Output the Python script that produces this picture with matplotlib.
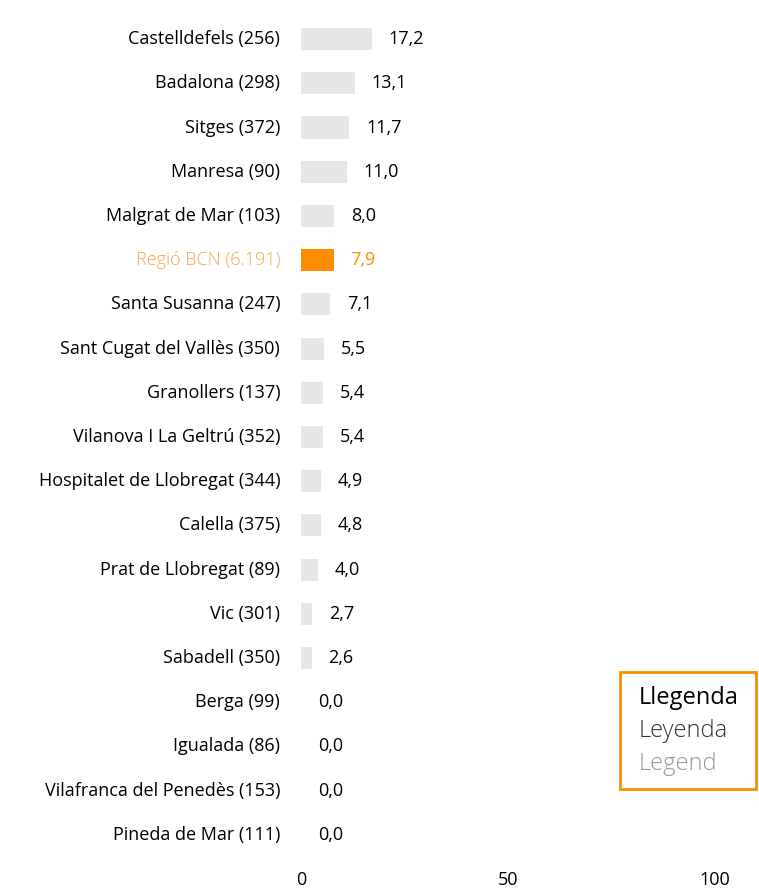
import matplotlib.pyplot as plt

# dades
labels = ["Castelldefels (256)", "Badalona (298)", "Sitges (372)", "Manresa (90)",
          "Malgrat de Mar (103)", "Regió BCN (6.191)", "Santa Susanna (247)",
          "Sant Cugat del Vallès (350)", "Granollers (137)", "Vilanova I La Geltrú (352)",
          "Hospitalet de Llobregat (344)", "Calella (375)", "Prat de Llobregat (89)",
          "Vic (301)", "Sabadell (350)", "Berga (99)", "Igualada (86)",
          "Vilafranca del Penedès (153)", "Pineda de Mar (111)"]
values = [17.2, 13.1, 11.7, 11.0, 8.0, 7.9, 7.1, 5.5, 5.4, 5.4,
          4.9, 4.8, 4.0, 2.7, 2.6, 0.0, 0.0, 0.0, 0.0]
highlight = "Regió BCN (6.191)"
xticks = [0, 50, 100]

grey = '#e6e6e6'
orange = '#ff8c00'
light_orange = '#f9a64a'

plt.rcParams['font.family'] = ['Open Sans', 'DejaVu Sans']

fig = plt.figure(figsize=(7.59, 8.9), dpi=100)
ax = fig.add_axes([301 / 759, 1 - 857 / 890, 455 / 759, 840 / 890])

ypos = list(range(len(labels)))
colors = [orange if l == highlight else grey for l in labels]
ax.barh(ypos, values, height=0.5, color=colors)

for y, v, l in zip(ypos, values, labels):
    c = orange if l == highlight else '#000000'
    ax.annotate(f"{v:.1f}".replace('.', ','), (v, y), xytext=(12, 0),
                textcoords='offset points', va='center', ha='left',
                fontsize=13, color=c)
    ax.annotate(l, (0, y), xytext=(-15, 0), textcoords='offset points',
                ha='right', va='center', fontsize=13,
                color=light_orange if l == highlight else '#000000',
                fontweight='light' if l == highlight else 'normal')

ax.set_xlim(0, 110)
ax.set_ylim(len(labels) - 0.5, -0.5)
ax.set_yticks([])
ax.set_xticks(xticks)
ax.set_xticklabels([str(t) for t in xticks], fontsize=13)
ax.tick_params(axis='x', length=0, pad=10)
for s in ax.spines.values():
    s.set_visible(False)

# llegenda
fig.patches.append(plt.Rectangle((620 / 759, 1 - 789 / 890), 136 / 759, 117 / 890,
                                 transform=fig.transFigure, fill=False,
                                 edgecolor=orange, linewidth=2))
fig.text(639 / 759, 1 - 698 / 890, "Llegenda", fontsize=17, color='#000000', va='center')
fig.text(639 / 759, 1 - 731 / 890, "Leyenda", fontsize=17, color='#333333', va='center',
         fontweight='light')
fig.text(639 / 759, 1 - 764 / 890, "Legend", fontsize=17, color='#999999', va='center',
         fontweight='light')

fig.savefig('out.png', dpi=100)
